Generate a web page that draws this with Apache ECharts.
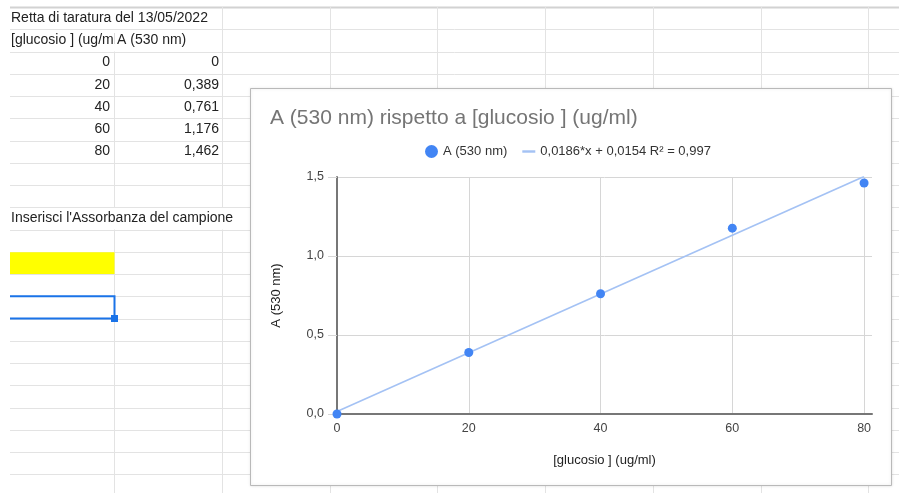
<!DOCTYPE html>
<html>
<head>
<meta charset="utf-8">
<script src="https://cdn.jsdelivr.net/npm/echarts@6/dist/echarts.min.js"></script>
<style>
  html, body { margin: 0; padding: 0; background: #ffffff; }
  #chart { width: 899px; height: 493px; }
</style>
</head>
<body>
<div id="chart"></div>
<script>
// ---- data ----
const concentration = [0, 20, 40, 60, 80];            // [glucosio ] (ug/ml)
const absorbance = [0, 0.389, 0.761, 1.176, 1.462];   // A (530 nm)
const trendX = [0, 80];                               // trendline end points (x)
const trendY = [0.0154, 1.5034];                      // trendline end points (y)
const xTickLabels = [0, 20, 40, 60, 80];
const yTickLabels = [0, 0.5, 1.0, 1.5];

// ---- texts ----
const sheetTitle = 'Retta di taratura del 13/05/2022';
const colHeaders = ['[glucosio ] (ug/ml)', 'A (530 nm)'];
const promptText = "Inserisci l'Assorbanza del campione";
const chartTitle = 'A (530 nm) rispetto a [glucosio ] (ug/ml)';
const seriesName = 'A (530 nm)';
const trendName = '0,0186*x + 0,0154 R² = 0,997';
const xAxisName = '[glucosio ] (ug/ml)';
const yAxisName = 'A (530 nm)';

// ---- helpers / layout ----
const FONT = '"Liberation Sans", Arial, sans-serif';
const fmtComma = v => (v === 0 ? '0' : String(v).replace('.', ','));
const ROW0 = 7, ROWH = 22.25, NROWS = 22;
const rowTop = r => ROW0 + ROWH * r;          // r = 0-based row index
const rowMid = r => rowTop(r) + ROWH / 2;
const colA = 10, colB = 114.5, colC = 222.5;
const otherCols = [330.5, 437.5, 545.5, 653.5, 761.5, 868.5];

const graphics = [];
// horizontal sheet lines
for (let n = 0; n < NROWS; n++) {
  const y = Math.round(rowTop(n)) + 0.5;
  graphics.push({
    type: 'line', z: 0, silent: true,
    shape: { x1: colA, y1: y, x2: 899, y2: y },
    style: { stroke: n === 0 ? '#d2d2d2' : '#e3e3e3', lineWidth: n === 0 ? 2 : 1 }
  });
}
// vertical sheet lines
function vline(x, y1, y2) {
  graphics.push({
    type: 'line', z: 0, silent: true,
    shape: { x1: x, y1: y1, x2: x, y2: y2 },
    style: { stroke: '#e3e3e3', lineWidth: 1 }
  });
}
vline(colB, rowTop(2), rowTop(9));
vline(colB, rowTop(10), 493);
vline(colC, rowTop(0), rowTop(9));
vline(colC, rowTop(10), 493);
otherCols.forEach(x => vline(x, rowTop(0), 493));

// yellow input cell
graphics.push({
  type: 'rect', z: 0, silent: true,
  shape: { x: colA, y: rowTop(11) + 0.5, width: colB - colA, height: ROWH - 0.5 },
  style: { fill: '#ffff00' }
});
// selected cell border
graphics.push({
  type: 'polyline', z: 0, silent: true,
  shape: { points: [[colA, rowTop(13)], [colB, rowTop(13)], [colB, rowTop(14)], [colA, rowTop(14)]] },
  style: { stroke: '#1a73e8', lineWidth: 2, fill: null }
});
graphics.push({
  type: 'rect', z: 0, silent: true,
  shape: { x: colB - 3.5, y: rowTop(14) - 3.5, width: 7, height: 7 },
  style: { fill: '#1a73e8' }
});

// sheet texts
function cellText(text, x, y, align, z) {
  graphics.push({
    type: 'text', z: z || 0, silent: true,
    style: {
      text: text, x: x, y: y, align: align, verticalAlign: 'middle',
      font: '14px ' + FONT, fill: '#222222'
    }
  });
}
cellText(sheetTitle, 11, rowMid(0), 'left');
cellText(colHeaders[0], 11, rowMid(1), 'left');
// cell B2 hides the overflow of A2
graphics.push({
  type: 'rect', z: 0.5, silent: true,
  shape: { x: colB, y: Math.round(rowTop(1)) + 1, width: colC - colB - 0.5, height: ROWH - 1.5 },
  style: { fill: '#ffffff' }
});
cellText(colHeaders[1], 117, rowMid(1), 'left', 0.6);
concentration.forEach((c, i) => {
  cellText(fmtComma(c), 110, rowMid(2 + i), 'right');
  cellText(fmtComma(absorbance[i]), 219, rowMid(2 + i), 'right');
});
cellText(promptText, 11, rowMid(9), 'left');

// chart box
graphics.push({
  type: 'rect', z: 1, silent: true,
  shape: { x: 250.5, y: 88.5, width: 641, height: 397 },
  style: { fill: '#ffffff', stroke: '#b9b9b9', lineWidth: 1, shadowBlur: 3, shadowColor: 'rgba(0,0,0,0.12)' }
});

const chart = echarts.init(document.getElementById('chart'), null, { renderer: 'canvas' });
chart.setOption({
  backgroundColor: '#ffffff',
  animation: false,
  textStyle: { fontFamily: FONT },
  graphic: { elements: graphics },
  title: {
    text: chartTitle,
    left: 270, top: 108, padding: 0, z: 6,
    textStyle: { fontSize: 21, fontWeight: 'normal', color: '#757575', fontFamily: FONT }
  },
  legend: {
    left: 425, top: 145, padding: 0, z: 6,
    itemWidth: 13, itemHeight: 13, itemGap: 15,
    textStyle: { fontSize: 13, color: '#333333', fontFamily: FONT },
    data: [
      { name: seriesName, icon: 'circle', itemStyle: { color: '#4285f4' } },
      { name: trendName, icon: 'path://M0,0 L16,0 L16,3 L0,3 Z', itemStyle: { color: '#a4c2f4' } }
    ]
  },
  grid: { left: 337, right: 27, top: 177, bottom: 79, containLabel: false },
  xAxis: {
    type: 'value', z: 3,
    min: xTickLabels[0], max: 81.2, interval: xTickLabels[1] - xTickLabels[0],
    name: xAxisName, nameLocation: 'middle', nameGap: 40,
    nameTextStyle: { fontSize: 13, color: '#222222', fontFamily: FONT },
    axisLine: { show: true, lineStyle: { color: '#777777', width: 2 } },
    axisTick: { show: false },
    axisLabel: {
      margin: 8, fontSize: 12.5, color: '#444444', fontFamily: FONT, showMaxLabel: false,
      formatter: v => (xTickLabels.indexOf(v) >= 0 ? String(v) : '')
    },
    splitLine: { show: true, showMaxLine: false, lineStyle: { color: '#d6d6d6', width: 1 } }
  },
  yAxis: {
    type: 'value', z: 3,
    min: yTickLabels[0], max: yTickLabels[yTickLabels.length - 1], interval: yTickLabels[1] - yTickLabels[0],
    name: yAxisName, nameLocation: 'middle', nameGap: 54,
    nameTextStyle: { fontSize: 13, color: '#222222', fontFamily: FONT },
    axisLine: { show: true, lineStyle: { color: '#777777', width: 2 } },
    axisTick: { show: true, length: 9, lineStyle: { color: '#d6d6d6', width: 1 } },
    axisLabel: {
      margin: 13, fontSize: 12.5, color: '#444444', fontFamily: FONT,
      formatter: v => v.toFixed(1).replace('.', ',')
    },
    splitLine: { show: true, lineStyle: { color: '#d6d6d6', width: 1 } }
  },
  series: [
    {
      name: trendName, type: 'line', z: 4,
      data: trendX.map((x, i) => [x, trendY[i]]),
      showSymbol: false, symbol: 'none',
      itemStyle: { color: '#a4c2f4' },
      lineStyle: { color: '#a4c2f4', width: 1.6 },
      silent: true
    },
    {
      name: seriesName, type: 'scatter', z: 5,
      data: concentration.map((x, i) => [x, absorbance[i]]),
      symbol: 'circle', symbolSize: 9,
      itemStyle: { color: '#4285f4', opacity: 1 }
    }
  ]
});
</script>
</body>
</html>
